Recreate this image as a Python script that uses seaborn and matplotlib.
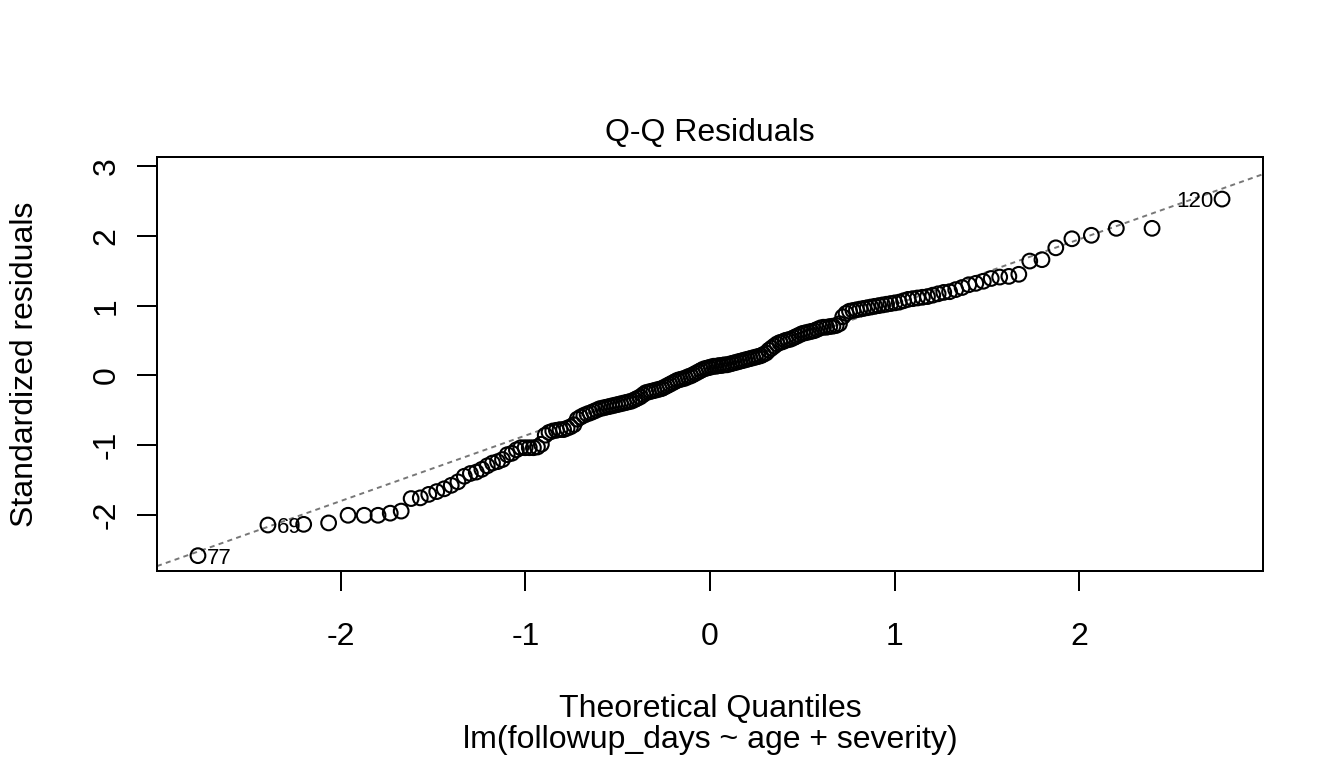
import numpy as np
import pandas as pd
import matplotlib
matplotlib.use("Agg")
import matplotlib.pyplot as plt
import seaborn as sns
from statistics import NormalDist

# sorted standardized residuals (n = 180)
residuals = [
    -2.59, -2.15, -2.14, -2.12, -2.01, -2.01, -2.01, -1.98, -1.95, -1.77,
    -1.76, -1.71, -1.67, -1.63, -1.58, -1.53, -1.45, -1.41, -1.39, -1.35,
    -1.30, -1.26, -1.24, -1.21, -1.14, -1.12, -1.07, -1.04, -1.04, -1.04,
    -1.04, -1.03, -0.99, -0.86, -0.82, -0.80, -0.79, -0.78, -0.78, -0.76,
    -0.74, -0.71, -0.63, -0.60, -0.575, -0.555, -0.54, -0.52, -0.50, -0.48,
    -0.47, -0.46, -0.45, -0.44, -0.43, -0.42, -0.41, -0.40, -0.39, -0.38,
    -0.37, -0.35, -0.33, -0.31, -0.28, -0.25, -0.24, -0.23, -0.22, -0.21,
    -0.20, -0.19, -0.17, -0.15, -0.13, -0.11, -0.09, -0.07, -0.06, -0.05,
    -0.04, -0.02, -0.01, 0.01, 0.03, 0.05, 0.07, 0.09, 0.10, 0.11,
    0.12, 0.13, 0.13, 0.14, 0.14, 0.15, 0.15, 0.16, 0.17, 0.18,
    0.19, 0.20, 0.21, 0.22, 0.23, 0.24, 0.25, 0.26, 0.27, 0.28,
    0.30, 0.32, 0.36, 0.39, 0.42, 0.45, 0.47, 0.48, 0.50, 0.51,
    0.52, 0.54, 0.56, 0.58, 0.60, 0.61, 0.62, 0.63, 0.64, 0.66,
    0.68, 0.69, 0.69, 0.70, 0.705, 0.715, 0.74, 0.84, 0.89, 0.92,
    0.93, 0.94, 0.95, 0.96, 0.97, 0.98, 0.99, 1.00, 1.01, 1.02,
    1.03, 1.04, 1.05, 1.07, 1.09, 1.10, 1.11, 1.12, 1.13, 1.15,
    1.17, 1.19, 1.20, 1.23, 1.26, 1.30, 1.32, 1.35, 1.39, 1.41,
    1.42, 1.45, 1.64, 1.66, 1.83, 1.96, 2.01, 2.11, 2.11, 2.53,
]
# observation ids of the three largest |residuals|, largest first
extreme_ids = ["77", "120", "69"]

x_ticks = [-2, -1, 0, 1, 2]
y_ticks = [-2, -1, 0, 1, 2, 3]

title = "Q-Q Residuals"
x_label = "Theoretical Quantiles"
sub_label = "lm(followup_days ~ age + severity)"
y_label = "Standardized residuals"

# theoretical quantiles like R's qqnorm (ppoints with a = 0.5)
n = len(residuals)
nd = NormalDist()
theoretical = [nd.inv_cdf((i + 0.5) / n) for i in range(n)]
df = pd.DataFrame({"theoretical": theoretical, "residual": residuals})

sns.set_theme(style="ticks")
plt.rcParams["font.family"] = ["Liberation Sans", "DejaVu Sans"]
plt.rcParams["text.color"] = "black"
plt.rcParams["axes.labelcolor"] = "black"

fig = plt.figure(figsize=(13.44, 7.68), dpi=100)
ax = fig.add_axes([157 / 1344, 197 / 768, 1106 / 1344, 414 / 768])

sns.scatterplot(data=df, x="theoretical", y="residual", ax=ax, marker="o",
                s=112, facecolor="none", edgecolor="black", linewidth=1.5,
                legend=False, zorder=3)

# qqline through the quartiles
q1, q3 = np.quantile(residuals, [0.25, 0.75])
z1, z3 = nd.inv_cdf(0.25), nd.inv_cdf(0.75)
slope = (q3 - q1) / (z3 - z1)
intercept = q1 - slope * z1
ax.axline((0, intercept), slope=slope, color="#777777", lw=1.4,
          linestyle=(0, (2.6, 2.2)), zorder=2)

# label the extremes
order = np.argsort(-np.abs(np.array(residuals)))[:3]
for idx, lab in zip(order, extreme_ids):
    xv, yv = theoretical[idx], residuals[idx]
    if xv > 0:
        ax.annotate(lab, (xv, yv), xytext=(-6.5, 0), textcoords="offset points",
                    ha="right", va="center_baseline", fontsize=16)
    else:
        ax.annotate(lab, (xv, yv), xytext=(6.5, 0), textcoords="offset points",
                    ha="left", va="center_baseline", fontsize=16)

# R-like limits: 4% padding, extra headroom on top for labels
xr = max(theoretical) - min(theoretical)
ax.set_xlim(min(theoretical) - 0.04 * xr, max(theoretical) + 0.04 * xr)
ylo, yhi = min(residuals), max(residuals)
yhi = yhi + 0.075 * (yhi - ylo)
yr = yhi - ylo
ax.set_ylim(ylo - 0.04 * yr, yhi + 0.04 * yr)

ax.set_xticks(x_ticks)
ax.set_yticks(y_ticks)
ax.set_xticklabels([str(t) for t in x_ticks])
ax.set_yticklabels([str(t) for t in y_ticks])
ax.tick_params(axis="both", direction="out", length=14.4, width=1.44,
               color="black", labelsize=23, labelcolor="black",
               bottom=True, left=True)
ax.tick_params(axis="x", pad=22)
ax.tick_params(axis="y", pad=11, labelrotation=90)
for lbl in ax.get_yticklabels():
    lbl.set_va("center")

for sp in ax.spines.values():
    sp.set_visible(True)
    sp.set_color("black")
    sp.set_linewidth(1.44)

ax.set_title(title, fontsize=23, pad=11.7)
ax.set_xlabel("")
ax.set_ylabel(y_label, fontsize=23)
ax.yaxis.set_label_coords(-0.1058, 0.5)

fig.text(0.5283, 1 - 716.7 / 768, x_label, ha="center", va="baseline", fontsize=23)
fig.text(0.5283, 1 - 748.3 / 768, sub_label, ha="center", va="baseline", fontsize=23)

fig.savefig("out.png", dpi=100, facecolor="white")
